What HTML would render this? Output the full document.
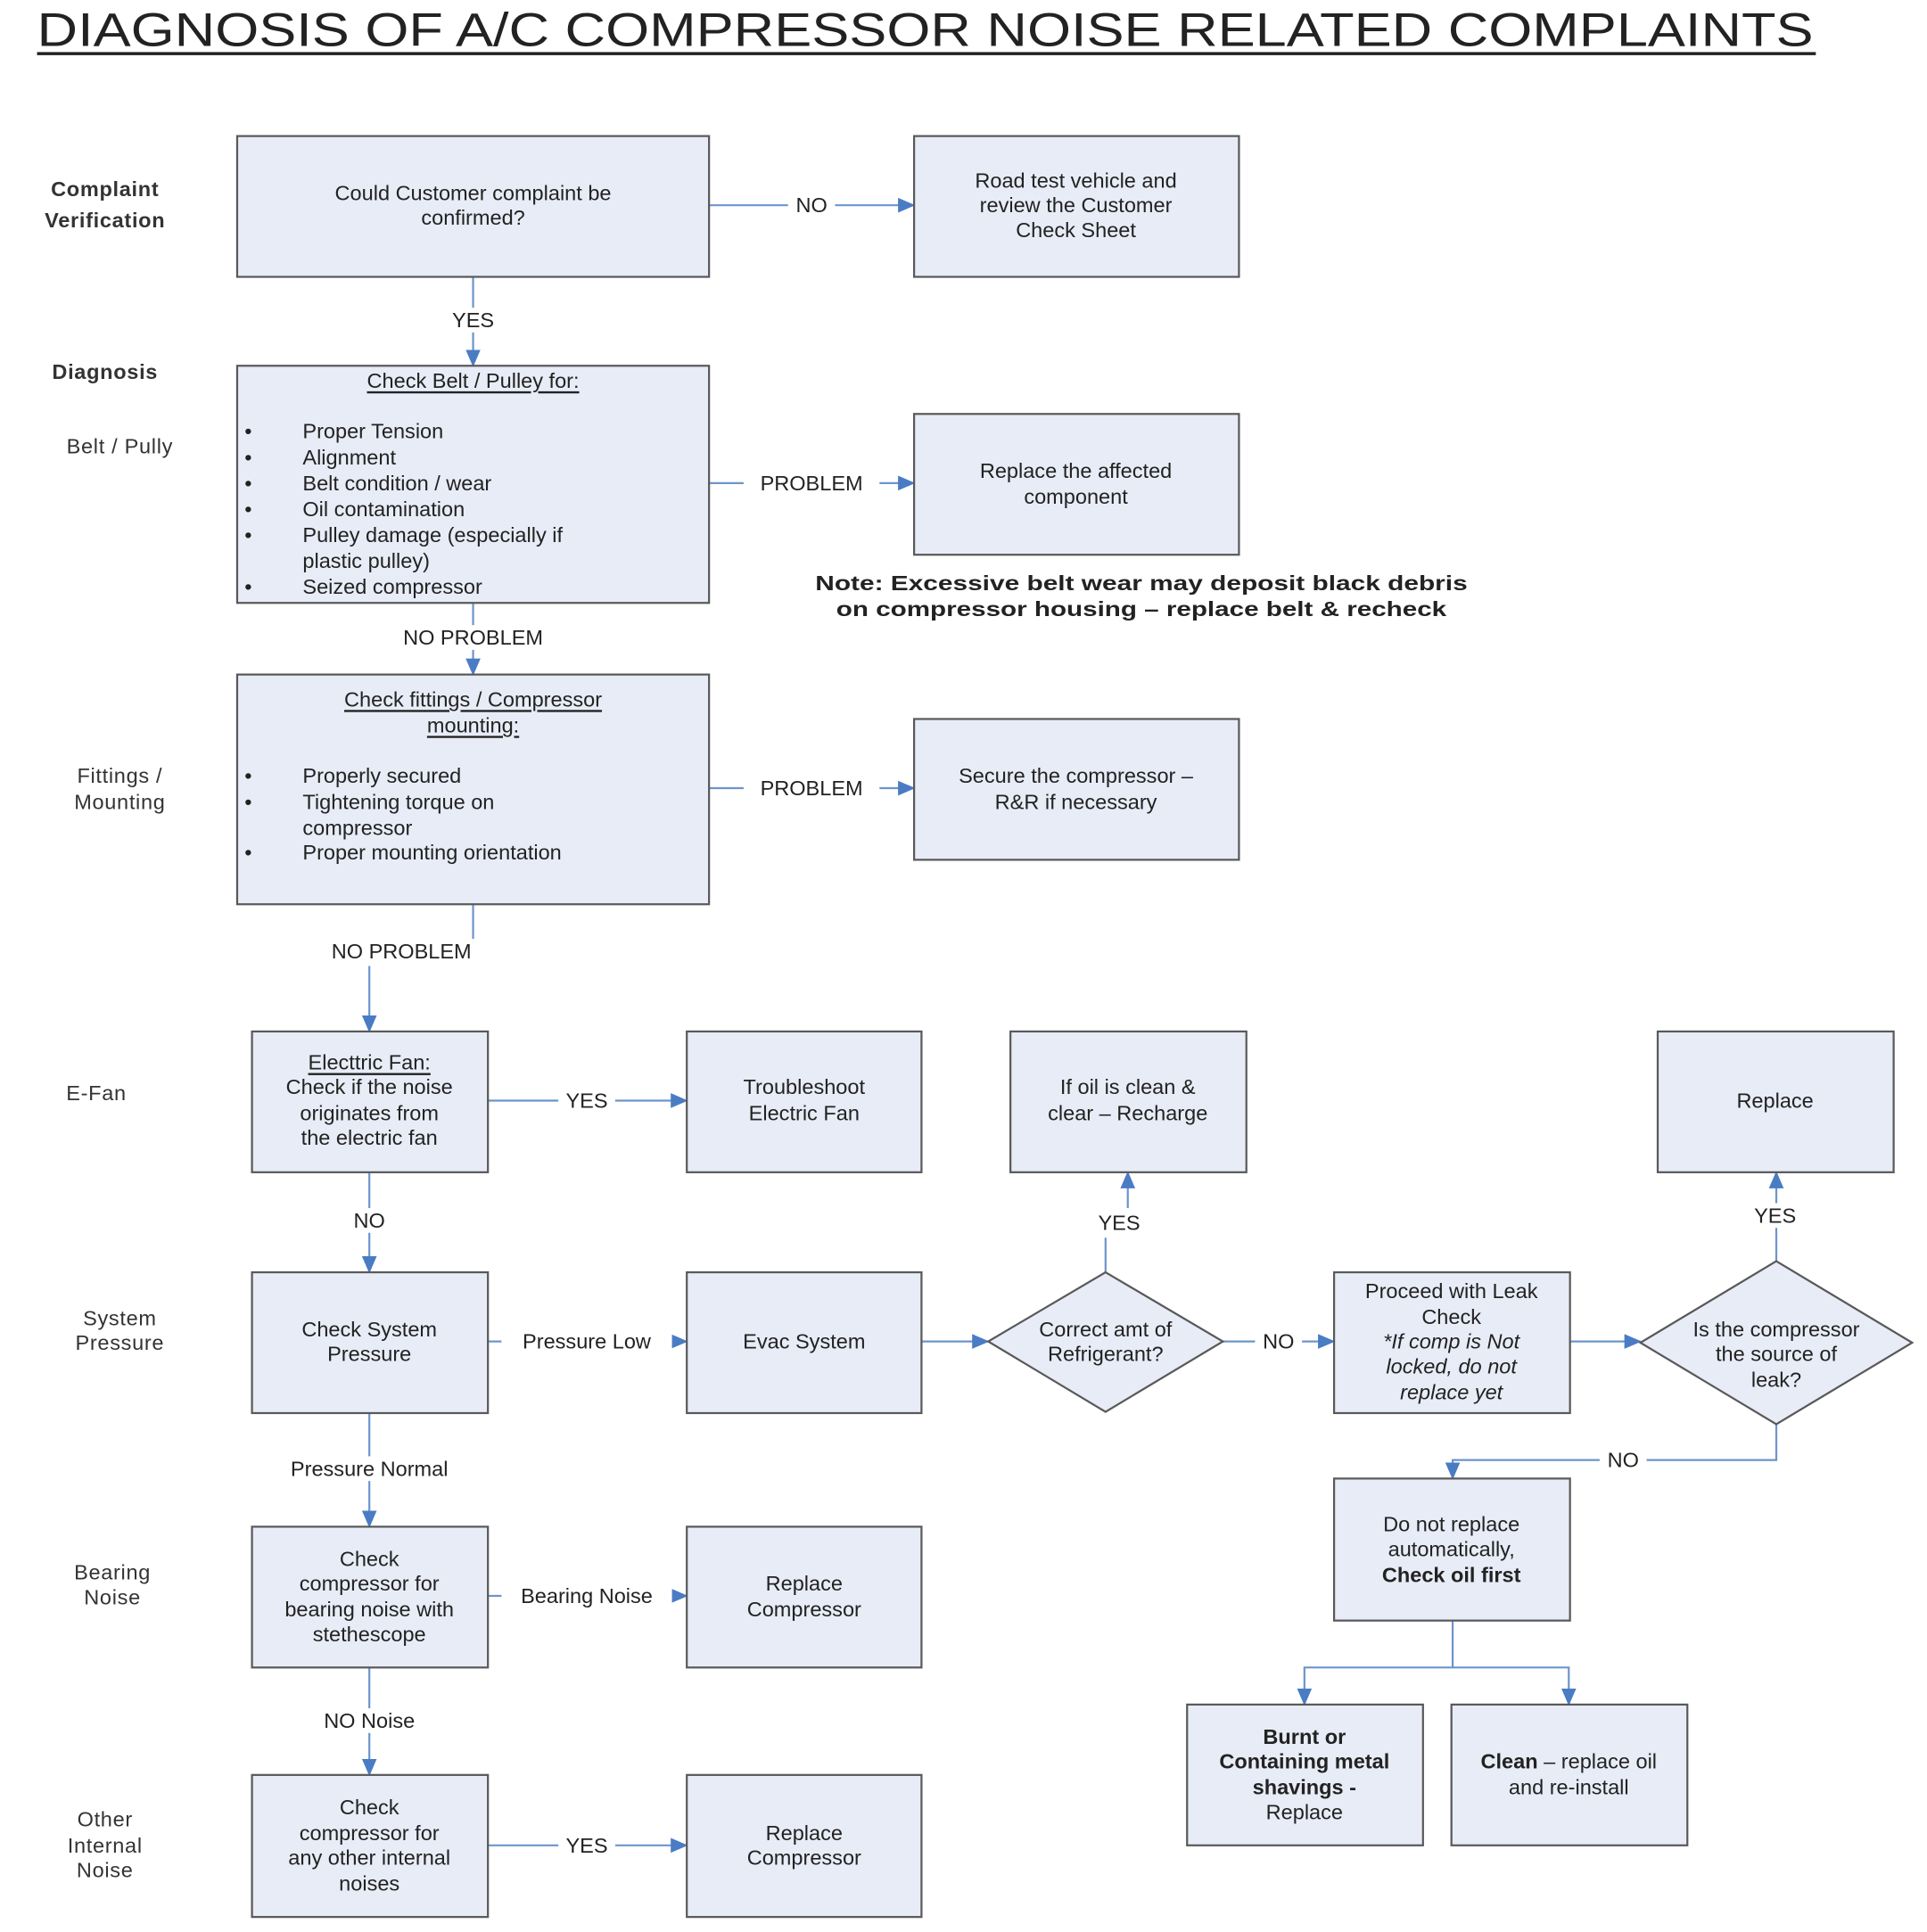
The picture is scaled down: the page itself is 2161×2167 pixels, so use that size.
<!DOCTYPE html>
<html><head><meta charset="utf-8"><style>
html,body{margin:0;padding:0;background:#fff;}
svg{display:block;}
text{font-family:"Liberation Sans",sans-serif;fill:#222;}
.b{fill:#E8ECF7;stroke:#595959;stroke-width:1.6;}
.c{fill:none;stroke:#6C95CB;stroke-width:1.6;}
.t{font-size:17px;text-anchor:middle;dominant-baseline:central;}
.l{font-size:17px;text-anchor:start;dominant-baseline:central;}
.lbl{font-size:17px;text-anchor:middle;dominant-baseline:central;}
.side{font-size:17px;text-anchor:middle;dominant-baseline:central;fill:#333;letter-spacing:0.5px;}
</style></head><body>
<svg width="2161" height="2167" viewBox="0 0 1560 1564" xmlns="http://www.w3.org/2000/svg">
<defs>
<marker id="a" markerWidth="14" markerHeight="12" refX="13" refY="6" orient="auto" markerUnits="userSpaceOnUse">
<path d="M0,0 L14,6 L0,12 Z" fill="#4A7CC4"/>
</marker>
</defs>
<rect width="1560" height="1564" fill="#fff"/>
<!-- title -->
<text x="30" y="37" font-size="38" textLength="1438" lengthAdjust="spacingAndGlyphs" fill="#111">DIAGNOSIS OF A/C COMPRESSOR NOISE RELATED COMPLAINTS</text>
<rect x="30" y="42" width="1440" height="2.5" fill="#222"/>

<!-- side labels -->
<text class="side" x="85" y="153" font-weight="bold" font-size="21" fill="#111">Complaint</text>
<text class="side" x="85" y="178" font-weight="bold" font-size="21" fill="#111">Verification</text>
<text class="side" x="85" y="301" font-weight="bold" font-size="21" fill="#111">Diagnosis</text>
<text class="side" x="97" y="361">Belt / Pully</text>
<text class="side" x="97" y="628">Fittings /</text>
<text class="side" x="97" y="649">Mounting</text>
<text class="side" x="78" y="885">E-Fan</text>
<text class="side" x="97" y="1067">System</text>
<text class="side" x="97" y="1087">Pressure</text>
<text class="side" x="91" y="1273">Bearing</text>
<text class="side" x="91" y="1293">Noise</text>
<text class="side" x="85" y="1473">Other</text>
<text class="side" x="85" y="1494">Internal</text>
<text class="side" x="85" y="1514">Noise</text>

<!-- connectors -->
<line class="c" x1="574" y1="166" x2="740" y2="166" marker-end="url(#a)"/>
<line class="c" x1="383" y1="224" x2="383" y2="296" marker-end="url(#a)"/>
<line class="c" x1="574" y1="391" x2="740" y2="391" marker-end="url(#a)"/>
<line class="c" x1="383" y1="488" x2="383" y2="546" marker-end="url(#a)"/>
<line class="c" x1="574" y1="638" x2="740" y2="638" marker-end="url(#a)"/>
<line class="c" x1="383" y1="732" x2="383" y2="760"/>
<line class="c" x1="299" y1="782" x2="299" y2="835" marker-end="url(#a)"/>
<line class="c" x1="395" y1="891" x2="556" y2="891" marker-end="url(#a)"/>
<line class="c" x1="299" y1="949" x2="299" y2="1030" marker-end="url(#a)"/>
<line class="c" x1="395" y1="1086" x2="556" y2="1086" marker-end="url(#a)"/>
<line class="c" x1="746" y1="1086" x2="800" y2="1086" marker-end="url(#a)"/>
<path class="c" d="M895,1030 L895,1002"/>
<path class="c" d="M913,978 L913,949" marker-end="url(#a)"/>
<line class="c" x1="990" y1="1086" x2="1080" y2="1086" marker-end="url(#a)"/>
<line class="c" x1="1271" y1="1086" x2="1328" y2="1086" marker-end="url(#a)"/>
<line class="c" x1="1438" y1="1021" x2="1438" y2="949" marker-end="url(#a)"/>
<path class="c" d="M1438,1153 L1438,1182 L1176,1182 L1176,1197" marker-end="url(#a)"/>
<path class="c" d="M1176,1312 L1176,1350 L1056,1350 L1056,1380" marker-end="url(#a)"/>
<path class="c" d="M1176,1350 L1270,1350 L1270,1380" marker-end="url(#a)"/>
<line class="c" x1="299" y1="1144" x2="299" y2="1236" marker-end="url(#a)"/>
<line class="c" x1="395" y1="1292" x2="556" y2="1292" marker-end="url(#a)"/>
<line class="c" x1="299" y1="1350" x2="299" y2="1437" marker-end="url(#a)"/>
<line class="c" x1="395" y1="1494" x2="556" y2="1494" marker-end="url(#a)"/>

<!-- connector labels -->
<g>
<rect x="638" y="156" width="38" height="20" fill="#fff"/><text class="lbl" x="657" y="166">NO</text>
<rect x="358" y="249" width="50" height="20" fill="#fff"/><text class="lbl" x="383" y="259">YES</text>
<rect x="602" y="381" width="110" height="20" fill="#fff"/><text class="lbl" x="657" y="391">PROBLEM</text>
<rect x="310" y="506" width="146" height="20" fill="#fff"/><text class="lbl" x="383" y="516">NO PROBLEM</text>
<rect x="602" y="628" width="110" height="20" fill="#fff"/><text class="lbl" x="657" y="638">PROBLEM</text>
<text class="lbl" x="325" y="770">NO PROBLEM</text>
<rect x="452" y="881" width="46" height="20" fill="#fff"/><text class="lbl" x="475" y="891">YES</text>
<rect x="280" y="978" width="38" height="20" fill="#fff"/><text class="lbl" x="299" y="988">NO</text>
<rect x="406" y="1076" width="138" height="20" fill="#fff"/><text class="lbl" x="475" y="1086">Pressure Low</text>
<text class="lbl" x="906" y="990">YES</text>
<rect x="1016" y="1076" width="38" height="20" fill="#fff"/><text class="lbl" x="1035" y="1086">NO</text>
<rect x="1414" y="974" width="48" height="20" fill="#fff"/><text class="lbl" x="1437" y="984">YES</text>
<rect x="1295" y="1172" width="38" height="20" fill="#fff"/><text class="lbl" x="1314" y="1182">NO</text>
<rect x="216" y="1179" width="166" height="20" fill="#fff"/><text class="lbl" x="299" y="1189">Pressure Normal</text>
<rect x="406" y="1282" width="138" height="20" fill="#fff"/><text class="lbl" x="475" y="1292">Bearing Noise</text>
<rect x="250" y="1383" width="98" height="20" fill="#fff"/><text class="lbl" x="299" y="1393">NO Noise</text>
<rect x="452" y="1484" width="46" height="20" fill="#fff"/><text class="lbl" x="475" y="1494">YES</text>
</g>

<!-- boxes -->
<rect class="b" x="192" y="110" width="382" height="114"/>
<text class="t" x="383" y="156">Could Customer complaint be</text>
<text class="t" x="383" y="176">confirmed?</text>

<rect class="b" x="740" y="110" width="263" height="114"/>
<text class="t" x="871" y="146">Road test vehicle and</text>
<text class="t" x="871" y="166">review the Customer</text>
<text class="t" x="871" y="186">Check Sheet</text>

<rect class="b" x="192" y="296" width="382" height="192"/>
<text class="t" x="383" y="308" text-decoration="underline">Check Belt / Pulley for:</text>
<g class="l">
<text class="l" x="198" y="349">•</text><text class="l" x="245" y="349">Proper Tension</text>
<text class="l" x="198" y="370">•</text><text class="l" x="245" y="370">Alignment</text>
<text class="l" x="198" y="391">•</text><text class="l" x="245" y="391">Belt condition / wear</text>
<text class="l" x="198" y="412">•</text><text class="l" x="245" y="412">Oil contamination</text>
<text class="l" x="198" y="433">•</text><text class="l" x="245" y="433">Pulley damage (especially if</text>
<text class="l" x="245" y="454">plastic pulley)</text>
<text class="l" x="198" y="475">•</text><text class="l" x="245" y="475">Seized compressor</text>
</g>

<rect class="b" x="740" y="335" width="263" height="114"/>
<text class="t" x="871" y="381">Replace the affected</text>
<text class="t" x="871" y="402">component</text>

<text class="t" x="924" y="472" font-weight="bold" textLength="528" lengthAdjust="spacingAndGlyphs">Note: Excessive belt wear may deposit black debris</text>
<text class="t" x="924" y="493" font-weight="bold" textLength="494" lengthAdjust="spacingAndGlyphs">on compressor housing – replace belt &amp; recheck</text>

<rect class="b" x="192" y="546" width="382" height="186"/>
<text class="t" x="383" y="566" text-decoration="underline">Check fittings / Compressor</text>
<text class="t" x="383" y="587" text-decoration="underline">mounting:</text>
<text class="l" x="198" y="628">•</text><text class="l" x="245" y="628">Properly secured</text>
<text class="l" x="198" y="649">•</text><text class="l" x="245" y="649">Tightening torque on</text>
<text class="l" x="245" y="670">compressor</text>
<text class="l" x="198" y="690">•</text><text class="l" x="245" y="690">Proper mounting orientation</text>

<rect class="b" x="740" y="582" width="263" height="114"/>
<text class="t" x="871" y="628">Secure the compressor –</text>
<text class="t" x="871" y="649">R&amp;R if necessary</text>

<rect class="b" x="204" y="835" width="191" height="114"/>
<text class="t" x="299" y="860" text-decoration="underline">Electtric Fan:</text>
<text class="t" x="299" y="880">Check if the noise</text>
<text class="t" x="299" y="901">originates from</text>
<text class="t" x="299" y="921">the electric fan</text>

<rect class="b" x="556" y="835" width="190" height="114"/>
<text class="t" x="651" y="880">Troubleshoot</text>
<text class="t" x="651" y="901">Electric Fan</text>

<rect class="b" x="818" y="835" width="191" height="114"/>
<text class="t" x="913" y="880">If oil is clean &amp;</text>
<text class="t" x="913" y="901">clear – Recharge</text>

<rect class="b" x="1342" y="835" width="191" height="114"/>
<text class="t" x="1437" y="891">Replace</text>

<rect class="b" x="204" y="1030" width="191" height="114"/>
<text class="t" x="299" y="1076">Check System</text>
<text class="t" x="299" y="1096">Pressure</text>

<rect class="b" x="556" y="1030" width="190" height="114"/>
<text class="t" x="651" y="1086">Evac System</text>

<polygon class="b" points="895,1030 990,1086 895,1143 800,1086"/>
<text class="t" x="895" y="1076">Correct amt of</text>
<text class="t" x="895" y="1096">Refrigerant?</text>

<rect class="b" x="1080" y="1030" width="191" height="114"/>
<text class="t" x="1175" y="1045">Proceed with Leak</text>
<text class="t" x="1175" y="1066">Check</text>
<text class="t" x="1175" y="1086" font-style="italic">*If comp is Not</text>
<text class="t" x="1175" y="1106" font-style="italic">locked, do not</text>
<text class="t" x="1175" y="1127" font-style="italic">replace yet</text>

<polygon class="b" points="1438,1021 1548,1087 1438,1153 1328,1087"/>
<text class="t" x="1438" y="1076">Is the compressor</text>
<text class="t" x="1438" y="1096">the source of</text>
<text class="t" x="1438" y="1117">leak?</text>

<rect class="b" x="1080" y="1197" width="191" height="115"/>
<text class="t" x="1175" y="1234">Do not replace</text>
<text class="t" x="1175" y="1254">automatically,</text>
<text class="t" x="1175" y="1275" font-weight="bold">Check oil first</text>

<rect class="b" x="961" y="1380" width="191" height="114"/>
<text class="t" x="1056" y="1406" font-weight="bold">Burnt or</text>
<text class="t" x="1056" y="1426" font-weight="bold">Containing metal</text>
<text class="t" x="1056" y="1447" font-weight="bold">shavings -</text>
<text class="t" x="1056" y="1467">Replace</text>

<rect class="b" x="1175" y="1380" width="191" height="114"/>
<text class="t" x="1270" y="1426"><tspan font-weight="bold">Clean</tspan> – replace oil</text>
<text class="t" x="1270" y="1447">and re-install</text>

<rect class="b" x="204" y="1236" width="191" height="114"/>
<text class="t" x="299" y="1262">Check</text>
<text class="t" x="299" y="1282">compressor for</text>
<text class="t" x="299" y="1303">bearing noise with</text>
<text class="t" x="299" y="1323">stethescope</text>

<rect class="b" x="556" y="1236" width="190" height="114"/>
<text class="t" x="651" y="1282">Replace</text>
<text class="t" x="651" y="1303">Compressor</text>

<rect class="b" x="204" y="1437" width="191" height="115"/>
<text class="t" x="299" y="1463">Check</text>
<text class="t" x="299" y="1484">compressor for</text>
<text class="t" x="299" y="1504">any other internal</text>
<text class="t" x="299" y="1525">noises</text>

<rect class="b" x="556" y="1437" width="190" height="115"/>
<text class="t" x="651" y="1484">Replace</text>
<text class="t" x="651" y="1504">Compressor</text>
</svg>
</body></html>
